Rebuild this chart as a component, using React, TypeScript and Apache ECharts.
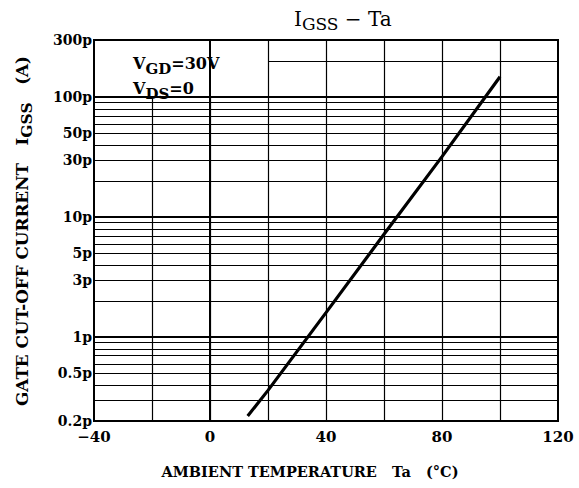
import React, { useEffect, useRef } from "react";
import * as echarts from "echarts";

const tempC = [13, 20, 40, 60, 80, 100];
const igssP = [0.22, 0.36, 1.6, 7.2, 32, 148];
const yTickValues = [0.2, 0.5, 1, 3, 5, 10, 30, 50, 100, 300];
const xGridFull = [20, 40, 60, 80, 100];
const xGridShort = [-20, 0];
const yGridFull = [0.3, 0.4, 0.5, 0.6, 0.7, 0.8, 0.9, 1, 2, 3, 4, 5, 6, 7, 8, 9, 10, 20, 30, 40, 50, 60, 70, 80, 90, 100];
const yGridShort = [200];
const decades = [1, 10, 100];

const titlePieces = [{ t: "I" }, { t: "GSS", sub: true }, { t: " \u2212 Ta" }];
const cond1Pieces = [{ t: "V" }, { t: "GD", sub: true }, { t: "=30V" }];
const cond2Pieces = [{ t: "V" }, { t: "DS", sub: true }, { t: "=0" }];
const yNamePieces = [{ t: "GATE CUT-OFF CURRENT   I" }, { t: "GSS", sub: true }, { t: "   (A)" }];

const FONT_NAME = "DejaVu Serif";
const FONT = "'DejaVu Serif', 'Liberation Serif', serif";

type Piece = { t: string; sub?: boolean };

function buildLine(
  pieces: Piece[],
  opts: { size: number; subSize: number; weight: string; shift: number; center?: boolean }
) {
  const canvas = document.createElement("canvas");
  const ctx = canvas.getContext("2d")!;
  let x = 0;
  const items = pieces.map((p) => {
    const size = p.sub ? opts.subSize : opts.size;
    ctx.font = `${opts.weight} ${size}px '${FONT_NAME}'`;
    const w = ctx.measureText(p.t).width;
    const item = { x, w, p, size };
    x += w;
    return item;
  });
  const offset = opts.center ? -x / 2 : 0;
  return items.map((it) => ({
    type: "text",
    x: it.x + offset,
    y: it.p.sub ? opts.shift : 0,
    silent: true,
    style: {
      text: it.p.t,
      fontFamily: FONT,
      fontSize: it.size,
      fontWeight: opts.weight,
      fill: "#000",
      align: "left",
      verticalAlign: "bottom",
    },
  }));
}

export default function App() {
  const ref = useRef<HTMLDivElement>(null);
  useEffect(() => {
    if (!ref.current) return;
    const chart = echarts.init(ref.current, null, { renderer: "svg" });
    const gridLines: any[] = [];
    xGridFull.forEach((x) =>
      gridLines.push([{ coord: [x, 0.2] }, { coord: [x, 300] }])
    );
    xGridShort.forEach((x) =>
      gridLines.push([{ coord: [x, 0.2] }, { coord: [x, 100] }])
    );
    yGridFull.forEach((y) =>
      gridLines.push([
        { coord: [-40, y], lineStyle: { width: decades.includes(y) ? 1.8 : 1.2 } },
        { coord: [120, y] },
      ])
    );
    yGridShort.forEach((y) =>
      gridLines.push([{ coord: [20, y] }, { coord: [120, y] }])
    );

    chart.setOption({
      animation: false,
      backgroundColor: "#fff",
      textStyle: { fontFamily: FONT },
      grid: {
        left: 94,
        right: 21,
        top: 40,
        bottom: 67,
        show: true,
        borderColor: "#000",
        borderWidth: 2,
        backgroundColor: "transparent",
      },
      xAxis: {
        type: "value",
        min: -40,
        max: 120,
        interval: 40,
        axisLine: { show: true, lineStyle: { color: "#000", width: 2 } },
        axisTick: { show: false },
        splitLine: { show: false },
        axisLabel: {
          color: "#000",
          fontFamily: FONT,
          fontWeight: "bold",
          fontSize: 15,
          margin: 8,
          formatter: (v: number) => (v < 0 ? "\u2212" + Math.abs(v) : String(v)),
        },
        name: "AMBIENT TEMPERATURE   Ta   (°C)",
        nameLocation: "middle",
        nameGap: 43,
        nameTextStyle: {
          color: "#000",
          fontFamily: FONT,
          fontWeight: "bold",
          fontSize: 14.5,
          padding: [0, 32, 0, 0],
        },
      },
      yAxis: {
        type: "log",
        logBase: 10,
        min: 0.2,
        max: 300,
        axisLine: { show: true, lineStyle: { color: "#000", width: 2 } },
        axisTick: { show: false },
        splitLine: { show: false },
        axisLabel: {
          customValues: yTickValues,
          color: "#000",
          fontFamily: FONT,
          fontWeight: "bold",
          fontSize: 14,
          margin: 2,
          formatter: (v: number) => Number(v.toPrecision(3)) + "p",
        },
      },
      graphic: [
        {
          type: "group",
          x: 294,
          y: 29,
          children: buildLine(titlePieces, { size: 20, subSize: 17, weight: "normal", shift: 3 }),
        },
        {
          type: "group",
          x: 133,
          y: 71,
          children: buildLine(cond1Pieces, { size: 16, subSize: 15, weight: "bold", shift: 5 }),
        },
        {
          type: "group",
          x: 133,
          y: 96,
          children: buildLine(cond2Pieces, { size: 16, subSize: 15, weight: "bold", shift: 5 }),
        },
        {
          type: "group",
          x: 30,
          y: 231,
          rotation: Math.PI / 2,
          children: buildLine(yNamePieces, { size: 16.8, subSize: 15.5, weight: "bold", shift: 4, center: true }),
        },
      ],
      series: [
        {
          type: "line",
          data: [],
          silent: true,
          markLine: {
            silent: true,
            symbol: ["none", "none"],
            label: { show: false },
            emphasis: { disabled: true },
            lineStyle: { color: "#000", width: 1.2, type: "solid" },
            data: gridLines,
          },
        },
        {
          type: "line",
          data: tempC.map((t, i) => [t, igssP[i]]),
          showSymbol: false,
          symbol: "none",
          lineStyle: { color: "#000", width: 3.2 },
          z: 5,
        },
      ],
    });
    return () => chart.dispose();
  }, []);
  return <div ref={ref} style={{ width: 579, height: 488, position: "absolute", left: 0, top: 0 }} />;
}
